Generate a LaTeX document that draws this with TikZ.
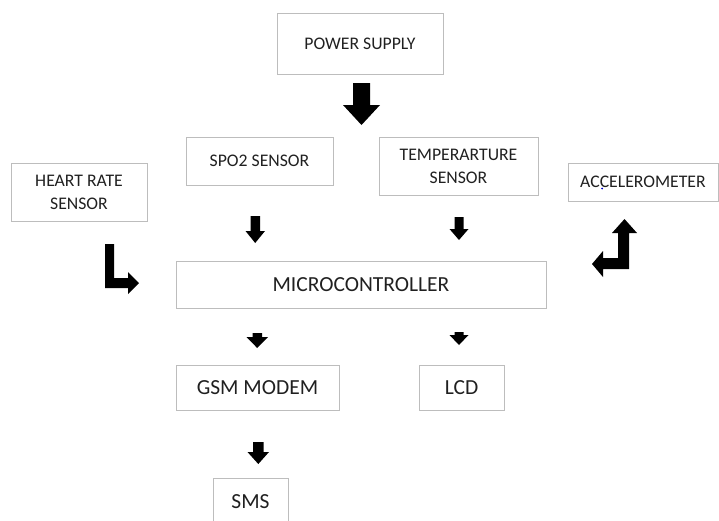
\documentclass[tikz,border=0pt]{standalone}
\usepackage{fontspec}
\setmainfont{Carlito}
\begin{document}
\begin{tikzpicture}[x=1pt,y=-1pt,
  blk/.style={draw=boxgray,line width=1pt,inner sep=0pt,align=center,text=txt,
    font=\fontsize{17.7}{23}\selectfont},
  bigblk/.style={blk,font=\fontsize{21.5}{26}\selectfont},
  blockarrow/.style={fill=black,draw=none}]
\definecolor{boxgray}{HTML}{BDBDBD}
\definecolor{txt}{HTML}{202020}
\useasboundingbox (0,0) rectangle (719,520);
\clip (0,0) rectangle (719,520);
% boxes
\node[blk,minimum width=166,minimum height=61] (power) at (360,43.5) {POWER SUPPLY};
\node[blk,minimum width=147,minimum height=48] (spo2) at (259.5,161) {SPO2 SENSOR};
\node[blk,minimum width=159,minimum height=58] (temp) at (458.5,166) {TEMPERARTURE\\SENSOR};
\node[blk,minimum width=136,minimum height=58] (heart) at (79,192) {HEART RATE\\SENSOR};
\node[blk,minimum width=150,minimum height=38] (accel) at (643,182) {ACCELEROMETER};
\node[bigblk,minimum width=370,minimum height=47] (micro) at (361,284.5) {MICROCONTROLLER};
\node[bigblk,minimum width=163,minimum height=45] (gsm) at (257.5,387.5) {GSM MODEM};
\node[bigblk,minimum width=85,minimum height=45] (lcd) at (461.5,387.5) {LCD};
\node[bigblk,minimum width=75,minimum height=48] (sms) at (250.5,502) {SMS};
% small blue mark under the first C of ACCELEROMETER
\fill[blue!80!black] (602,188.5) circle (1);
% block arrows
\path[blockarrow] (353,83) -- (370,83) -- (370,105) -- (380,105) -- (361.5,125) -- (343,105) -- (353,105) -- cycle;
\path[blockarrow] (250.5,216) -- (260,216) -- (260,231) -- (265,231) -- (255.2,243) -- (245.5,231) -- (250.5,231) -- cycle;
\path[blockarrow] (454.5,217) -- (463.5,217) -- (463.5,229) -- (468.5,229) -- (459,240) -- (449.5,229) -- (454.5,229) -- cycle;
\path[blockarrow] (252.5,333) -- (262,333) -- (262,337) -- (268,337) -- (257.2,348) -- (246.5,337) -- (252.5,337) -- cycle;
\path[blockarrow] (454.5,332) -- (463.5,332) -- (463.5,335) -- (468.5,335) -- (459,345) -- (449.5,335) -- (454.5,335) -- cycle;
\path[blockarrow] (253,442) -- (263.5,442) -- (263.5,452) -- (269,452) -- (258.3,464) -- (247.5,452) -- (253,452) -- cycle;
% L arrow (heart rate)
\path[blockarrow] (105,244) -- (114,244) -- (114,278) -- (128,278) -- (128,272) -- (139,283) -- (128,294) -- (128,288) -- (105,288) -- cycle;
% bent arrow (accelerometer)
\path[blockarrow] (618,233) -- (612,233) -- (624.5,219) -- (637,233) -- (629,233) -- (629,269) -- (603,269) -- (603,277) -- (592,264) -- (603,251) -- (603,258) -- (618,258) -- cycle;
\end{tikzpicture}
\end{document}
